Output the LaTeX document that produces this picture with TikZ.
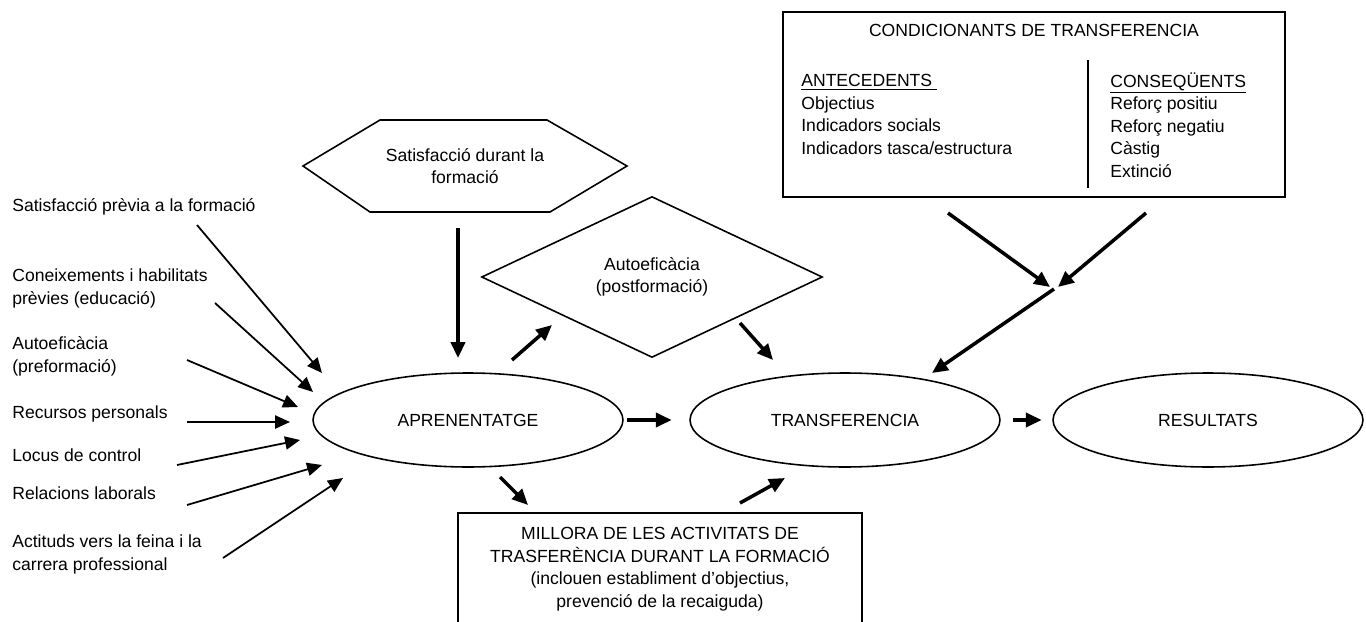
\documentclass[tikz,border=0pt]{standalone}
\usepackage{fontspec}
\setmainfont{Liberation Sans}
\usetikzlibrary{shapes.geometric, arrows.meta, positioning, calc}

\begin{document}
\begin{tikzpicture}[x=0.02cm, y=-0.02cm,
		every node/.style={font=\fontsize{10}{12.8}\selectfont, inner sep=0pt},
		oval/.style={draw, ellipse, line width=0.9pt, minimum width=6.2cm, minimum height=1.88cm},
		factor/.style={anchor=base west, align=left},
		arr/.style={line width=2pt, -{Triangle[length=9pt, width=8pt]}},
		thinarr/.style={line width=1pt, -{Triangle[length=8.5pt, width=7.5pt]}}]
		\useasboundingbox (0,0) rectangle (1366,622);

		% Main chain
		\node[oval] (apr) at (468,420) {APRENENTATGE};
		\node[oval] (tra) at (845,420) {TRANSFERENCIA};
		\node[oval] (res) at (1208,420) {RESULTATS};

		\node[align=center] (sat) at (465,166) {Satisfacció durant la\\formació};
		\draw[line width=0.9pt] (sat.center) +(-162,0) -- +(-85,-46) -- +(82,-46) -- +(162,0) -- +(85,46) -- +(-95,46) -- cycle;

		\node[draw, diamond, line width=0.9pt, minimum width=6.82cm, minimum height=3.22cm, align=center] (auto) at (652,277) {Autoefic\`acia\\(postformaci\'o)};

		\node[draw, line width=0.9pt, align=center, minimum width=8.08cm, minimum height=2.24cm] (mil) at (660,569) {MILLORA DE LES ACTIVITATS DE\\TRASFERÈNCIA DURANT LA FORMACIÓ\\(inclouen establiment d'objectius,\\prevenció de la recaiguda)};

		% Conditioning box (base of a column = its last line)
		\node[draw, line width=1.3pt, minimum width=10.04cm, minimum height=3.7cm] (cond) at (1034,104.5) {};
		\node[anchor=base] (condtitle) at (1034,36) {CONDICIONANTS DE TRANSFERENCIA};
		\node[factor] (ante) at (801,154) {\underline{ANTECEDENTS\ }\\Objectius\\Indicadors socials\\Indicadors tasca/estructura};
		\node[factor] (cons) at (1110,177) {\underline{CONSEQÜENTS}\\Reforç positiu\\Reforç negatiu\\Càstig\\Extinció};
		\draw[line width=0.9pt] (1088,60) -- (1088,188);

		% Factors before training
		\node[factor] (f1) at (12,211) {Satisfacció prèvia a la formació};
		\node[factor] (f2) at (12,304) {Coneixements i habilitats\\prèvies (educació)};
		\node[factor] (f3) at (12,372) {Autoeficàcia\\(preformació)};
		\node[factor] (f4) at (12,418) {Recursos personals};
		\node[factor] (f5) at (12,461) {Locus de control};
		\node[factor] (f6) at (12,499) {Relacions laborals};
		\node[factor] (f7) at (12,570) {Actituds vers la feina i la\\carrera professional};

		% Arrow ends
		\coordinate (f1s) at (197,225);  \coordinate (f1t) at (322,373);
		\coordinate (f2s) at (215,303);  \coordinate (f2t) at (313,392);
		\coordinate (f3s) at (187,360);  \coordinate (f3t) at (298,407);
		\coordinate (f4s) at (187,422);  \coordinate (f4t) at (290,422);
		\coordinate (f5s) at (177,465);  \coordinate (f5t) at (300,440);
		\coordinate (f6s) at (187,505);  \coordinate (f6t) at (322,465);
		\coordinate (f7s) at (223,558);  \coordinate (f7t) at (343,478);
		\coordinate (sats) at (458,228); \coordinate (satt) at (458,358);
		\coordinate (auts) at (512,360); \coordinate (autt) at (552,325);
		\coordinate (trai) at (740,323); \coordinate (trat) at (773,360);
		\coordinate (mils) at (500,477); \coordinate (milt) at (528,505);
		\coordinate (milo) at (740,503); \coordinate (milu) at (785,478);
		\coordinate (conda) at (948,213); \coordinate (condb) at (1146,213);
		\coordinate (join) at (1054,289); \coordinate (joint) at (932,373);

		\foreach \f in {f1,f2,f3,f4,f5,f6,f7}
			\draw[thinarr] (\f s) -- (\f t);

		\draw[arr] (sats) -- (satt);
		\draw[arr] (auts) -- (autt);
		\draw[arr] (trai) -- (trat);
		\draw[arr] (mils) -- (milt);
		\draw[arr] (milo) -- (milu);
		\draw[arr, shorten <=2pt, shorten >=10pt] (apr) -- (tra);
		\draw[arr, shorten <=7pt, shorten >=6pt] (tra) -- (res);
		\draw[arr] (conda) -- ($(join)+(-4,-2)$);
		\draw[arr] (condb) -- ($(join)+(4,-2)$);
		\draw[arr] (join) -- (joint);
\end{tikzpicture}
\end{document}
